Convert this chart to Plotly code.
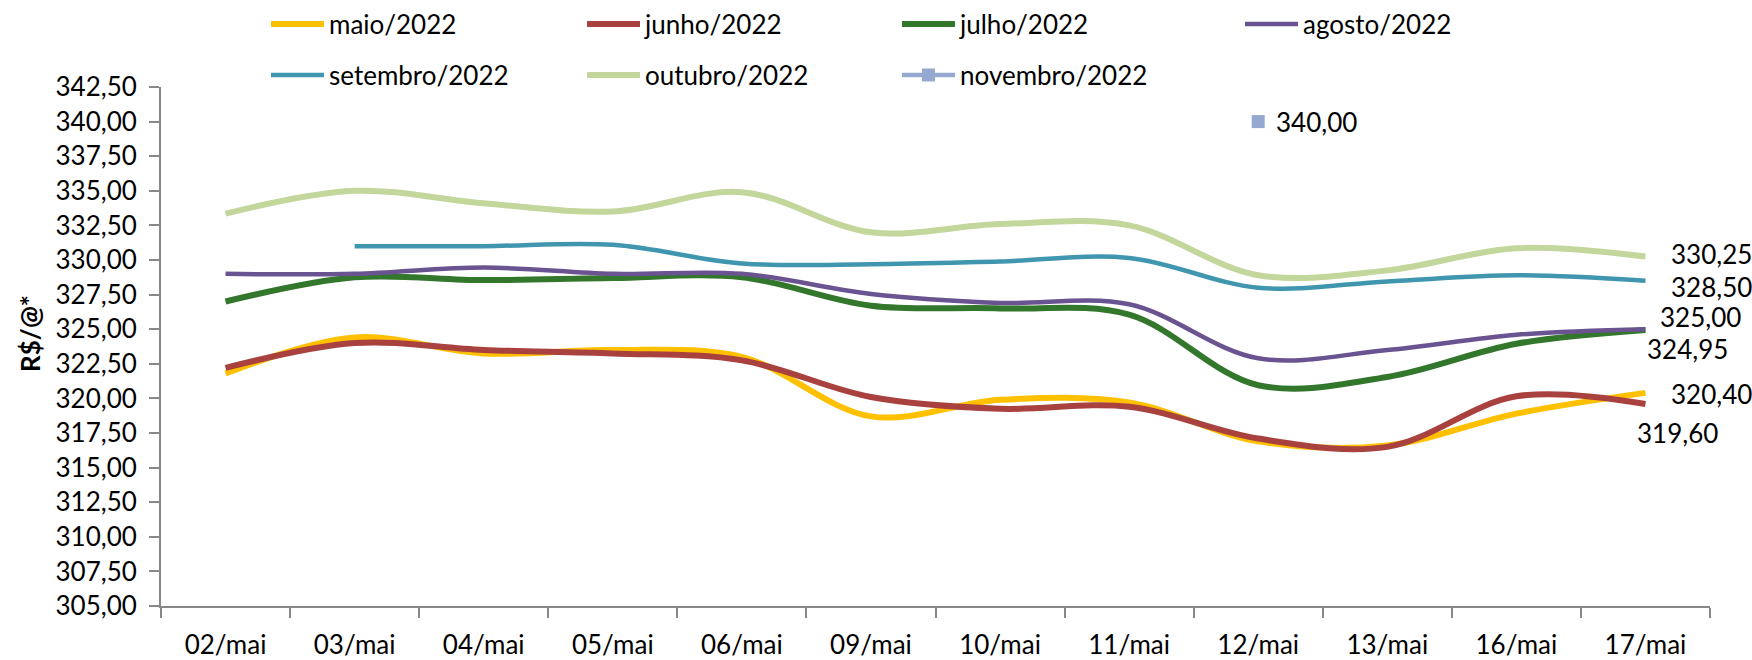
import plotly.graph_objects as go

# Trading days (May 2022)
dias = ["02/mai", "03/mai", "04/mai", "05/mai", "06/mai", "09/mai",
        "10/mai", "11/mai", "12/mai", "13/mai", "16/mai", "17/mai"]

# Settlement prices (R$/@) per contract month
maio = [321.80, 324.40, 323.25, 323.50, 323.00, 318.70, 319.90, 319.70, 316.90, 316.60, 318.90, 320.40]
junho = [322.20, 324.00, 323.50, 323.25, 322.75, 320.10, 319.25, 319.40, 317.10, 316.50, 320.15, 319.60]
julho = [327.00, 328.75, 328.55, 328.70, 328.75, 326.70, 326.50, 326.05, 320.95, 321.55, 323.95, 324.95]
agosto = [329.00, 329.00, 329.45, 329.00, 329.00, 327.55, 326.90, 326.80, 322.90, 323.50, 324.60, 325.00]
setembro = [None, 331.00, 331.00, 331.10, 329.75, 329.70, 329.90, 330.15, 328.00, 328.45, 328.90, 328.50]
outubro = [333.35, 335.00, 334.10, 333.50, 334.90, 332.00, 332.60, 332.50, 328.90, 329.25, 330.85, 330.25]
novembro = [None, None, None, None, None, None, None, None, 340.00, None, None, None]

y_ticks = [305 + 2.5 * i for i in range(16)]
y_tick_text = [f"{v:.2f}".replace(".", ",") for v in y_ticks]

FONT = "Lato"
FS = 26


def br(v):
    return f"{v:.2f}".replace(".", ",")


series = [
    ("maio/2022", maio, "#FFC000", 6, "legend"),
    ("junho/2022", junho, "#A9423F", 6, "legend2"),
    ("julho/2022", julho, "#33772D", 6, "legend3"),
    ("agosto/2022", agosto, "#6A5391", 4.5, "legend4"),
    ("setembro/2022", setembro, "#3F96AE", 4.5, "legend5"),
    ("outubro/2022", outubro, "#C3D69C", 6, "legend6"),
]

fig = go.Figure()
for name, vals, color, w, lg in series:
    fig.add_trace(go.Scatter(
        x=dias, y=vals, name=name, mode="lines", legend=lg,
        line=dict(color=color, width=w, shape="spline", smoothing=1.0),
        connectgaps=False, hoverinfo="skip",
    ))

fig.add_trace(go.Scatter(
    x=dias, y=novembro, name="novembro/2022", mode="lines+markers", legend="legend7",
    line=dict(color="#95A9D0", width=4.5),
    marker=dict(symbol="square", size=13, color="#95A9D0"),
    hoverinfo="skip",
))

# Legend slots: (legend id, left edge in px, row centre in px)
W, H = 1752, 660
slots = [("legend", 266, 24), ("legend2", 582, 24), ("legend3", 897, 24), ("legend4", 1240, 24),
         ("legend5", 266, 75), ("legend6", 582, 75), ("legend7", 897, 75)]
legend_layout = {}
for lid, px, py in slots:
    legend_layout[lid] = dict(
        x=px / W, y=1 - py / H, xref="container", yref="container",
        xanchor="left", yanchor="middle", orientation="h",
        font=dict(family=FONT, size=FS, color="#000000"),
        bgcolor="rgba(0,0,0,0)", itemwidth=53,
    )

# End-of-series value labels: (day, value, xshift, yshift)
end_labels = [
    ("17/mai", outubro[-1], 24, 3),
    ("17/mai", setembro[-1], 24, -6),
    ("17/mai", agosto[-1], 13, 12),
    ("17/mai", julho[-1], 0, -19),
    ("17/mai", maio[-1], 24, -1),
    ("17/mai", junho[-1], -10, -29),
    ("12/mai", novembro[8], 16, 0),
]
annotations = [
    dict(x=d, y=v, xref="x", yref="y", text=br(v), showarrow=False,
         xanchor="left", yanchor="middle", xshift=xs, yshift=ys,
         font=dict(family=FONT, size=FS, color="#000000"))
    for d, v, xs, ys in end_labels
]

PL, PR, PT, PB = 161, 42, 87, 54
plot_w, plot_h = W - PL - PR, H - PT - PB

# Axis title, placed beside the tick labels (centre at 30 px, 334 px)
annotations.append(dict(
    x=(30 - PL) / plot_w, y=1 - (334 - PT) / plot_h, xref="paper", yref="paper",
    text="<b>R$/@*</b>", showarrow=False,
    textangle=-90, xanchor="center", yanchor="middle",
    font=dict(family=FONT, size=FS, color="#000000"),
))

axis_color = "#888888"
fig.update_layout(
    width=W, height=H,
    margin=dict(l=PL, r=PR, t=PT, b=PB, autoexpand=False),
    paper_bgcolor="white", plot_bgcolor="white",
    font=dict(family=FONT, size=FS, color="#000000"),
    showlegend=True,
    annotations=annotations,
    **legend_layout,
)
fig.update_xaxes(
    type="category", categoryorder="array", categoryarray=dias,
    tickson="boundaries", ticks="outside", ticklen=10, tickwidth=1.5, tickcolor=axis_color,
    showline=True, linecolor=axis_color, linewidth=2,
    showgrid=False, zeroline=False, range=[-0.5, 11.5], automargin=False,
    tickfont=dict(family=FONT, size=FS, color="#000000"), ticklabelstandoff=15,
)
fig.update_yaxes(
    range=[305, 342.5], tickmode="array", tickvals=y_ticks, ticktext=y_tick_text,
    ticks="outside", ticklen=10, tickwidth=1.5, tickcolor=axis_color,
    showline=True, linecolor=axis_color, linewidth=2,
    showgrid=False, zeroline=False, automargin=False,
    tickfont=dict(family=FONT, size=FS, color="#000000"), ticklabelstandoff=7,
)

fig.write_html("out.html")
